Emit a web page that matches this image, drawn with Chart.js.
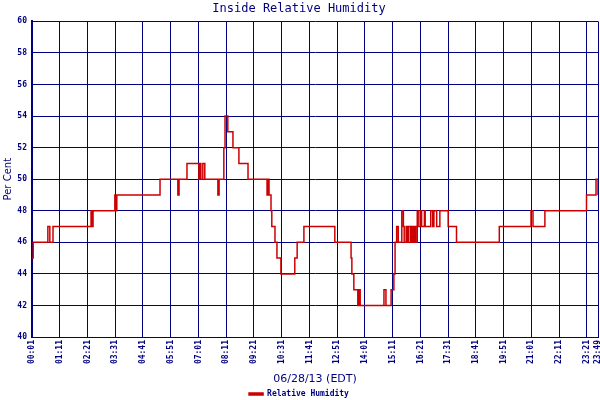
<!DOCTYPE html>
<html>
<head>
<meta charset="utf-8">
<title>Inside Relative Humidity</title>
<script src="https://cdn.jsdelivr.net/npm/chart.js@4/dist/chart.umd.min.js"></script>
<style>
    body { margin: 0; background: #fff; }
    canvas { display: block; }
</style>
</head>
<body>
<canvas id="myChart" width="600" height="400"></canvas>
<script>
// readings of the day (time -> % RH), one entry each time the value changes
var times = [
    '00:01', '00:04', '00:41', '00:46', '00:54', '02:30', '02:32', '02:35', '03:30', '03:33',
    '03:35', '05:24', '06:09', '06:12', '06:32', '07:02', '07:05', '07:07', '07:12', '07:17',
    '07:50', '07:53', '08:05', '08:08', '08:15', '08:28', '08:43', '09:06', '09:54', '09:56',
    '09:59', '10:04', '10:06', '10:14', '10:19', '10:29', '11:04', '11:10', '11:27', '12:45',
    '13:26', '13:28', '13:33', '13:43', '13:46', '13:49', '14:49', '14:54', '15:07', '15:14',
    '15:17', '15:21', '15:25', '15:34', '15:38', '15:40', '15:45', '15:48', '15:51', '15:56',
    '15:58', '16:01', '16:04', '16:06', '16:08', '16:12', '16:13', '16:17', '16:22', '16:24',
    '16:31', '16:33', '16:47', '16:52', '16:55', '17:02', '17:10', '17:31', '17:52', '19:40',
    '21:00', '21:05', '21:35', '23:20', '23:44', '23:49'
];
var humidity = [
    45, 46, 47, 46, 47, 48, 47, 48, 49, 48,
    49, 50, 49, 50, 51, 50, 51, 50, 51, 50,
    49, 50, 52, 54, 53, 52, 51, 50, 49, 50,
    49, 48, 47, 46, 45, 44, 45, 46, 47, 46,
    45, 44, 43, 42, 43, 42, 43, 42, 43, 44,
    46, 47, 46, 48, 47, 46, 47, 46, 47, 46,
    47, 46, 47, 46, 47, 46, 48, 47, 48, 47,
    48, 47, 48, 47, 48, 47, 48, 47, 46, 47,
    48, 47, 48, 49, 50, 49
];
var tickLabels = [
    '00:01', '01:11', '02:21', '03:31', '04:41', '05:51', '07:01', '08:11', '09:21', '10:31',
    '11:41', '12:51', '14:01', '15:11', '16:21', '17:31', '18:41', '19:51', '21:01', '22:11',
    '23:21', '23:49'
];
var yMin = 40, yMax = 60, yStep = 2;

var navy = '#000080';
var red = '#cc0000';

function toMinutes(t) {
    var p = t.split(':');
    return parseInt(p[0], 10) * 60 + parseInt(p[1], 10);
}

var points = times.map(function (t, i) {
    return { x: toMinutes(t), y: humidity[i] };
});
var tickMinutes = tickLabels.map(toMinutes);

var config = {
    type: 'line',
    data: {
        datasets: [{
            label: 'Relative Humidity',
            data: points,
            stepped: 'before',
            borderColor: red,
            backgroundColor: red,
            borderWidth: 1.5,
            pointRadius: 0,
            fill: false
        }]
    },
    options: {
        responsive: false,
        animation: false,
        layout: { padding: { left: 0, right: 2, top: 0, bottom: 0 } },
        plugins: {
            title: {
                display: true,
                text: 'Inside Relative Humidity',
                color: navy,
                font: { family: 'DejaVu Sans Mono', size: 12, weight: 'normal' },
                padding: { top: 2, bottom: 5 }
            },
            legend: {
                position: 'bottom',
                maxHeight: 12,
                labels: {
                    color: navy,
                    font: { family: 'DejaVu Sans Mono', size: 8, weight: 'bold' },
                    boxWidth: 14,
                    boxHeight: 2,
                    padding: 2
                }
            },
            tooltip: { enabled: false }
        },
        scales: {
            x: {
                type: 'linear',
                min: tickMinutes[0],
                max: tickMinutes[tickMinutes.length - 1],
                afterBuildTicks: function (scale) {
                    scale.ticks = tickMinutes.map(function (v) { return { value: v }; });
                },
                afterFit: function (scale) {
                    scale.height = 51;
                    scale.paddingLeft = 0;
                    scale.paddingRight = 0;
                },
                ticks: {
                    autoSkip: false,
                    minRotation: 90,
                    maxRotation: 90,
                    padding: 3,
                    color: navy,
                    font: { family: 'DejaVu Sans Mono', size: 8, weight: 'bold' },
                    callback: function (value) {
                        var i = tickMinutes.indexOf(value);
                        return i >= 0 ? tickLabels[i] : '';
                    }
                },
                grid: { color: navy, lineWidth: 1, drawTicks: false },
                border: { color: navy, width: 1 },
                title: {
                    display: true,
                    text: '06/28/13 (EDT)',
                    color: navy,
                    font: { family: 'DejaVu Sans', size: 11 },
                    padding: { top: 0, bottom: 2 }
                }
            },
            y: {
                min: yMin,
                max: yMax,
                afterFit: function (scale) { scale.width = 32; },
                ticks: {
                    stepSize: yStep,
                    padding: 5,
                    color: navy,
                    font: { family: 'DejaVu Sans Mono', size: 8, weight: 'bold' }
                },
                grid: { color: navy, lineWidth: 1, drawTicks: false },
                border: { color: navy, width: 2 },
                title: {
                    display: true,
                    text: 'Per Cent',
                    color: navy,
                    font: { family: 'DejaVu Sans', size: 10 },
                    padding: { top: 2, bottom: 0 }
                }
            }
        }
    }
};

var myChart = new Chart(document.getElementById('myChart'), config);
</script>
</body>
</html>
